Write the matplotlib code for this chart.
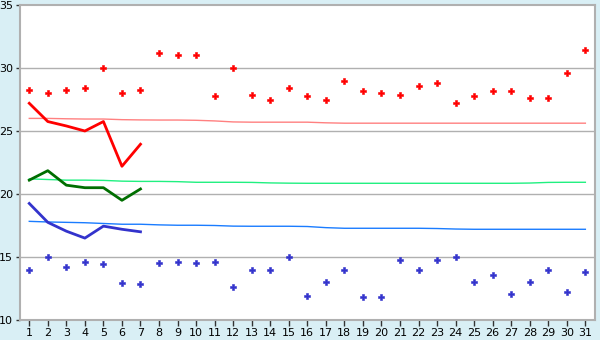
import numpy as np
import matplotlib
matplotlib.use("Agg")
import matplotlib.pyplot as plt

days = np.arange(1, 32)

# max / min points for each day
hi_pts = [28.25, 28.0, 28.25, 28.4, 30.0, 28.0, 28.25, 31.2, 31.0, 31.0,
          27.75, 30.0, 27.85, 27.5, 28.4, 27.75, 27.5, 29.0, 28.2, 28.0,
          27.85, 28.55, 28.8, 27.2, 27.75, 28.15, 28.2, 27.6, 27.6, 29.6, 31.4]
lo_pts = [14.0, 15.0, 14.2, 14.6, 14.45, 12.9, 12.85, 14.5, 14.6, 14.5,
          14.6, 12.6, 14.0, 14.0, 15.0, 11.9, 13.0, 14.0, 11.8, 11.8,
          14.75, 14.0, 14.8, 15.0, 13.0, 13.55, 12.05, 13.0, 14.0, 12.2, 13.8]

# current month, first 7 days
hi_line = [27.2, 25.75, 25.4, 25.0, 25.75, 22.2, 23.95]
mid_line = [21.1, 21.85, 20.7, 20.5, 20.5, 19.5, 20.4]
lo_line = [19.25, 17.75, 17.05, 16.5, 17.45, 17.2, 17.0]

# long term averages
hi_avg = [26.0, 26.0, 25.97, 25.95, 25.95, 25.9, 25.88, 25.87, 25.87, 25.85,
          25.8, 25.72, 25.7, 25.7, 25.7, 25.7, 25.65, 25.62, 25.62, 25.62,
          25.62, 25.62, 25.62, 25.62, 25.62, 25.62, 25.62, 25.62, 25.62, 25.62, 25.62]
mid_avg = [21.2, 21.15, 21.1, 21.1, 21.08, 21.02, 21.0, 21.0, 20.98, 20.93,
           20.93, 20.93, 20.92, 20.88, 20.86, 20.85, 20.85, 20.85, 20.85, 20.85,
           20.85, 20.85, 20.85, 20.85, 20.85, 20.85, 20.85, 20.87, 20.92, 20.93, 20.93]
lo_avg = [17.83, 17.78, 17.75, 17.72, 17.66, 17.6, 17.6, 17.55, 17.52, 17.52,
          17.5, 17.45, 17.44, 17.44, 17.44, 17.42, 17.33, 17.28, 17.28, 17.28,
          17.28, 17.28, 17.26, 17.22, 17.2, 17.2, 17.2, 17.2, 17.2, 17.2, 17.2]

bg = "#d9eff5"
fig = plt.figure(figsize=(6, 3.4), dpi=100, facecolor=bg)
ax = fig.add_axes([20 / 600, 1 - 320 / 340, 575 / 600, 315 / 340])
ax.set_facecolor("white")

for y in [15, 20, 25, 30]:
    ax.axhline(y, color="#b0b0b0", lw=1, zorder=1)

ax.plot(days, hi_avg, color="#ff8080", lw=1, zorder=2)
ax.plot(days, mid_avg, color="#20f080", lw=1, zorder=2)
ax.plot(days, lo_avg, color="#1a7cff", lw=1, zorder=2)

d7 = days[:len(hi_line)]
ax.plot(d7, hi_line, color="#ff0000", lw=2, zorder=3)
ax.plot(d7, mid_line, color="#006e00", lw=2, zorder=3)
ax.plot(d7, lo_line, color="#3333cc", lw=2, zorder=3)

ax.plot(days, hi_pts, ls="none", marker="P", ms=5, color="#ff0000", mew=0.4, zorder=4)
ax.plot(days, lo_pts, ls="none", marker="P", ms=5, color="#3333cc", mew=0.4, zorder=4)

ax.set_xlim(0.5, 31.52)
ax.set_ylim(10, 35)
ax.set_xticks(days)
ax.set_yticks([10, 15, 20, 25, 30, 35])
ax.tick_params(axis="both", labelsize=8, length=4, width=1, color="#333333", pad=2)
ax.tick_params(axis="y", length=3)
for s in ax.spines.values():
    s.set_color("#b0b0b0")
    s.set_linewidth(1.5)

fig.savefig("out.png", dpi=100, facecolor=bg)
